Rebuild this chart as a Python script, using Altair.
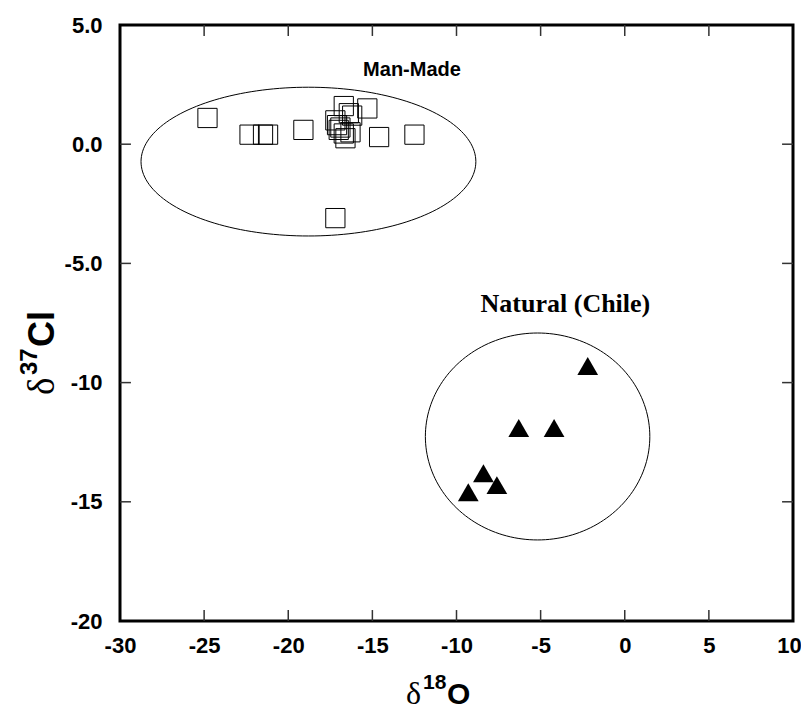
import altair as alt
import numpy as np
import pandas as pd

# Man-made perchlorate (open squares)
mm_o18 = [-24.8, -22.3, -21.5, -21.2, -19.1, -17.2, -17.0, -16.9, -17.1, -16.7,
          -16.4, -16.2, -15.3, -16.7, -16.6, -16.3, -14.6, -12.5, -17.2]
mm_cl37 = [1.1, 0.4, 0.4, 0.4, 0.6, 1.0, 0.6, 0.7, 0.8, 1.6,
           1.3, 1.2, 1.5, 0.45, 0.25, 0.5, 0.3, 0.4, -3.1]

# Natural (Chile) perchlorate (filled triangles)
nat_o18 = [-2.2, -6.3, -4.2, -8.4, -7.6, -9.3]
nat_cl37 = [-9.3, -11.9, -11.9, -13.8, -14.3, -14.6]

# Group ellipses: center x, center y, radius x, radius y
ell_mm = (-18.8, -0.73, 9.95, 3.12)
ell_nat = (-5.18, -12.26, 6.67, 4.34)

# annotation anchors (left edge, baseline)
ann_text = ["Man-Made", "Natural (Chile)"]
ann_x = [-15.55, -8.57]
ann_y = [2.86, -7.02]

x_ticks = [-25, -20, -15, -10, -5, 0, 5]
y_ticks = [-15, -10, -5, 0]
X_DOM = [-30, 10]
Y_DOM = [-20, 5]

W, H = 673, 596
FONT = "Liberation Sans"

xs = alt.Scale(domain=X_DOM, nice=False, zero=False)
ys = alt.Scale(domain=Y_DOM, nice=False, zero=False)


def ellipse_df(e, name):
    cx, cy, rx, ry = e
    t = np.linspace(0, 2 * np.pi, 181)
    return pd.DataFrame({"x": cx + rx * np.cos(t), "y": cy + ry * np.sin(t),
                         "i": np.arange(len(t)), "g": name})


ell = pd.concat([ellipse_df(ell_mm, "mm"), ellipse_df(ell_nat, "nat")])

mm = pd.DataFrame({"x": mm_o18, "y": mm_cl37})
nat = pd.DataFrame({"x": nat_o18, "y": nat_cl37})

xaxis = alt.Axis(title="", values=list(range(-30, 11, 5)), ticks=False, domain=False,
                 grid=False, labelFont=FONT, labelFontWeight="bold", labelFontSize=22,
                 labelColor="black", labelPadding=14, labelExpr="toString(datum.value)",
                 labelFlush=False,
                 labelOffset={"condition": {"test": "datum.value == 10", "value": -4},
                              "value": 0})
yaxis = alt.Axis(title="", values=list(range(-20, 6, 5)), ticks=False, domain=False,
                 grid=False, labelFont=FONT, labelFontWeight="bold", labelFontSize=22,
                 labelColor="black", labelPadding=18,
                 labelExpr="(datum.value < 0 ? '-' : '') + format(abs(datum.value), abs(datum.value) < 10 ? '.1f' : 'd')",
                 labelFlush=False)

ellipses = alt.Chart(ell).mark_line(color="black", strokeWidth=1).encode(
    x=alt.X("x:Q", scale=xs, axis=xaxis),
    y=alt.Y("y:Q", scale=ys, axis=yaxis),
    detail="g:N", order="i:Q")

squares = alt.Chart(mm).mark_point(shape="square", size=370, filled=False,
                                   color="black", strokeWidth=1, opacity=1).encode(
    x=alt.X("x:Q", scale=xs), y=alt.Y("y:Q", scale=ys))

triangles = alt.Chart(nat).mark_point(shape="triangle-up", size=430, filled=True,
                                      color="black", opacity=1).encode(
    x=alt.X("x:Q", scale=xs), y=alt.Y("y:Q", scale=ys))

# inward tick marks on all four sides
TLX = 0.65
TLY = 0.46
xt = pd.DataFrame({"x": x_ticks})
yt = pd.DataFrame({"y": y_ticks})
tick_style = dict(color="#333333", strokeWidth=1.5)
t_bottom = alt.Chart(xt.assign(y=Y_DOM[0], y2=Y_DOM[0] + TLY)).mark_rule(**tick_style).encode(
    x=alt.X("x:Q", scale=xs), y=alt.Y("y:Q", scale=ys), y2="y2:Q")
t_top = alt.Chart(xt.assign(y=Y_DOM[1], y2=Y_DOM[1] - TLY)).mark_rule(**tick_style).encode(
    x=alt.X("x:Q", scale=xs), y=alt.Y("y:Q", scale=ys), y2="y2:Q")
t_left = alt.Chart(yt.assign(x=X_DOM[0], x2=X_DOM[0] + TLX)).mark_rule(**tick_style).encode(
    y=alt.Y("y:Q", scale=ys), x=alt.X("x:Q", scale=xs), x2="x2:Q")
t_right = alt.Chart(yt.assign(x=X_DOM[1], x2=X_DOM[1] - TLX)).mark_rule(**tick_style).encode(
    y=alt.Y("y:Q", scale=ys), x=alt.X("x:Q", scale=xs), x2="x2:Q")

ann = pd.DataFrame({"x": ann_x, "y": ann_y, "t": ann_text})
mm_label = alt.Chart(ann.iloc[[0]]).mark_text(font=FONT, fontWeight="bold", fontSize=20,
                                              color="black", align="left",
                                              baseline="alphabetic").encode(
    x=alt.X("x:Q", scale=xs), y=alt.Y("y:Q", scale=ys), text="t:N")
nat_label = alt.Chart(ann.iloc[[1]]).mark_text(font="Liberation Serif", fontWeight="bold",
                                               fontSize=26, color="black", align="left",
                                               baseline="alphabetic").encode(
    x=alt.X("x:Q", scale=xs), y=alt.Y("y:Q", scale=ys), text="t:N")

# Axis titles with true superscripts (pieces of text)
title_df = pd.DataFrame({"k": [0]})


def piece(txt, x, y, size, font=FONT, weight="bold", angle=0):
    return alt.Chart(title_df).mark_text(
        text=txt, font=font, fontWeight=weight, fontSize=size, color="black",
        align="left", baseline="alphabetic", angle=angle).encode(
        x=alt.value(x), y=alt.value(y))


# x title: δ18O
XT_BASE = 679
xt_parts = [
    piece("δ", 286, XT_BASE, 32, font="Liberation Serif", weight="normal"),
    piece("18", 303, XT_BASE - 15, 21),
    piece("O", 327, XT_BASE, 30),
]
# y title: δ37Cl rotated
YT_BASE = -66
yt_parts = [
    piece("δ", YT_BASE, 370, 37, font="Liberation Serif", weight="normal", angle=270),
    piece("37", YT_BASE - 17, 350, 24, angle=270),
    piece("Cl", YT_BASE, 322, 36, angle=270),
]

chart = alt.layer(ellipses, t_bottom, t_top, t_left, t_right, squares, triangles,
                  mm_label, nat_label, *xt_parts, *yt_parts).properties(
    width=W, height=H,
    autosize=alt.AutoSizeParams(type="none"),
    padding={"left": 112, "top": 17, "right": 8, "bottom": 92},
).configure(background="white").configure_view(stroke="black", strokeWidth=3)

chart.save("out.html", embed_options={"renderer": "svg", "actions": False})
